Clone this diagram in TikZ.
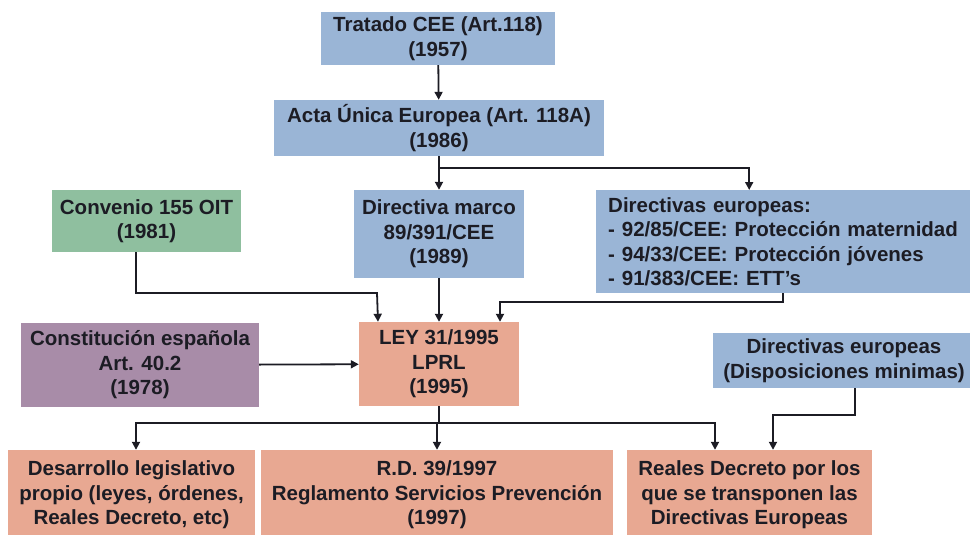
\documentclass[tikz,border=0pt]{standalone}
\usepackage{fontspec}
\setmainfont{Liberation Sans}
\usetikzlibrary{arrows.meta}
\definecolor{eublue}{HTML}{9AB5D6}
\definecolor{oitgreen}{HTML}{8FBF9F}
\definecolor{cepurple}{HTML}{A88CA8}
\definecolor{lawsalmon}{HTML}{E8A892}
\definecolor{inkdark}{HTML}{1C1C24}
\tikzset{
  lawnode/.style = {shape=rectangle, align=center, inner sep=0pt,
                    text=inkdark, font=\bfseries\fontsize{20.5}{24.5}\selectfont},
  eunode/.style  = {lawnode, fill=eublue},
  oitnode/.style = {lawnode, fill=oitgreen},
  esnode/.style  = {lawnode, fill=cepurple},
  lprlnode/.style = {lawnode, fill=lawsalmon},
  link/.style    = {draw=inkdark, line width=1.8pt,
                    -{Triangle[length=8pt,width=8pt]}},
}
\begin{document}
\begin{tikzpicture}
	[
		x = 1pt,
		y = -1pt
	]
	\useasboundingbox (0,0) rectangle (970,535);
	\node [eunode, minimum width=234pt, minimum height=53pt] (tratado) at (438,38.5)
		{Tratado CEE (Art.118)\\(1957)};
	\node [eunode, minimum width=330pt, minimum height=56pt] (acta) at (439,128)
		{Acta Única Europea (Art. 118A)\\(1986)};
	\node [eunode, minimum width=170pt, minimum height=88pt] (marco) at (439,234)
		{Directiva marco\\89/391/CEE\\(1989)};
	\node [eunode, minimum width=374pt, minimum height=103pt, align=left,
		anchor=north west, inner xsep=12pt, text width=350pt] (dirs) at (596,190)
		{Directivas europeas:\\- 92/85/CEE: Protección maternidad\\- 94/33/CEE: Protección jóvenes\\- 91/383/CEE: ETT's};
	\node [oitnode, minimum width=189pt, minimum height=62pt] (oit) at (146.5,221)
		{Convenio 155 OIT\\(1981)};
	\node [lprlnode, minimum width=160pt, minimum height=84pt] (ley) at (439,364)
		{LEY 31/1995\\LPRL\\(1995)};
	\node [esnode, minimum width=238pt, minimum height=84pt] (const) at (140,365)
		{Constitución española\\Art. 40.2\\(1978)};
	\node [eunode, minimum width=262pt, minimum height=55pt] (dirmin) at (844,360.5)
		{Directivas europeas\\(Disposiciones minimas)};
	\node [lprlnode, minimum width=247pt, minimum height=90pt] (desarrollo) at (131.5,495)
		{Desarrollo legislativo\\propio (leyes, órdenes,\\Reales Decreto, etc)};
	\node [lprlnode, minimum width=352pt, minimum height=90pt] (rd) at (437,495)
		{R.D. 39/1997\\Reglamento Servicios Prevención\\(1997)};
	\node [lprlnode, minimum width=245pt, minimum height=90pt] (reales) at (749.5,495)
		{Reales Decreto por los\\que se transponen las\\Directivas Europeas};

	% branch points
	\coordinate (actasplit) at (439,168);
	\coordinate (leysplit) at (439,423);

	\draw [link] (tratado) -- (acta);
	\draw [link] (acta) -- (marco);
	\draw [link, -] (acta.south) -- (actasplit);
	\draw [link] (actasplit) -| ([xshift=-34pt]dirs.north);
	\draw [link] (marco) -- (ley);
	\draw [link] ([xshift=-10.5pt]oit.south) |- (377,293) -- ([xshift=-61pt]ley.north);
	\draw [link] (dirs.south) |- (500,302) -- ([xshift=61pt]ley.north);
	\draw [link] (const) -- (ley);
	\draw [link] (ley.south) -- (leysplit) -| ([xshift=4.5pt]desarrollo.north);
	\draw [link] (leysplit) -- (leysplit -| rd.north) -- (rd.north);
	\draw [link] (leysplit) -| ([xshift=-34.5pt]reales.north);
	\draw [link] ([xshift=11pt]dirmin.south) |- (773,415) -- ([xshift=23.5pt]reales.north);
\end{tikzpicture}
\end{document}
